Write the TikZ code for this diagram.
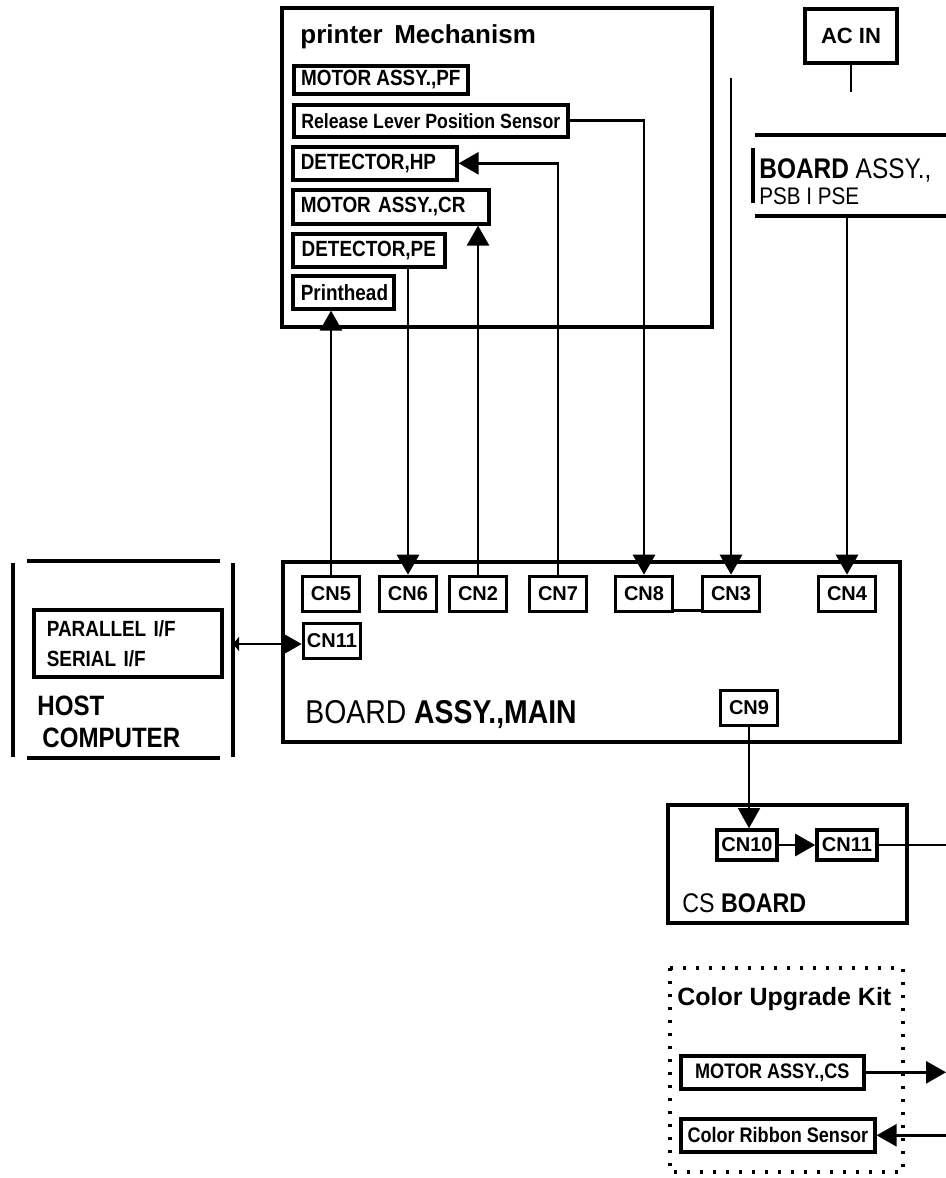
\documentclass[tikz,border=0pt]{standalone}
\usepackage{fontspec}
\setmainfont{Liberation Sans}
\newfontfamily\narrowsf{Liberation Sans}[FakeStretch=0.86]
\usetikzlibrary{arrows.meta}

\begin{document}
\begin{tikzpicture}[x=0.5pt,y=-0.5pt]
    \tikzstyle{part}=[draw,line width=1.8pt,anchor=north west,inner xsep=4pt,inner ysep=0pt,align=left,font={\narrowsf\bfseries\fontsize{11}{13}\selectfont}]
    \tikzstyle{cn}=[draw,line width=1.8pt,inner sep=0pt,minimum width=28.5pt,minimum height=17.5pt,font={\bfseries\fontsize{10}{12}\selectfont}]
    \tikzstyle{txt}=[anchor=base west,inner sep=0pt]
    \tikzstyle{wire}=[line width=1.4pt]
    \tikzstyle{arr}=[wire,-{Triangle[length=10pt,width=11pt]}]
    \tikzstyle{frame}=[line width=2pt]
    \useasboundingbox (0,0) rectangle (946,1178);
    \coordinate (rightedge) at (946,0);

    % printer mechanism
    \draw[frame] (282,8) rectangle (712,327);
    \node[txt,font={\bfseries\fontsize{13}{15}\selectfont}] (mechtitle) at (300,43) {printer\, Mechanism};
    \node[part,minimum width=87pt,inner xsep=2pt,minimum height=14pt] (pf) at (292,64) {MOTOR ASSY.,PF};
    \node[part,minimum width=137pt,inner xsep=2pt,minimum height=16pt,font={\narrowsf\bfseries\fontsize{10.3}{12}\selectfont}] (rls) at (292,103) {Release Lever Position Sensor};
    \node[part,text width=74pt,minimum height=16.5pt] (hp) at (291,145) {DETECTOR,HP};
    \node[part,text width=90pt,minimum height=17pt] (cr) at (291,188) {MOTOR ASSY.,CR};
    \node[part,minimum width=76pt,inner xsep=2pt,minimum height=16.5pt] (pe) at (291,232) {DETECTOR,PE};
    \node[part,text width=42.5pt,minimum height=16.5pt] (ph) at (291,274) {Printhead};

    % AC in and power supply
    \node[draw,line width=1.6pt,minimum width=46pt,minimum height=27pt,inner sep=0pt,font={\bfseries\fontsize{11}{13}\selectfont}] (acin) at (851,36) {AC IN};
    \coordinate (acend) at (851,92);
    \draw[wire] (acin.south) -- (acend);
    \draw[frame] (755,135) -- (990,135);
    \draw[frame] (755,216) -- (990,216);
    \draw[frame] (753,148) -- (753,203);
    \node[txt,font={\narrowsf\fontsize{14.2}{17}\selectfont}] (psba) at (759,178) {\textbf{BOARD} ASSY.,};
    \node[txt,font={\narrowsf\fontsize{12}{14}\selectfont}] (psbb) at (759,204) {PSB I PSE};
    \coordinate (psbout) at (847,216);

    % main board
    \draw[frame] (283,562) rectangle (900,742);
    \node[cn] (cn5) at (331,594) {CN5};
    \node[cn] (cn6) at (408,594) {CN6};
    \node[cn] (cn2) at (478,594) {CN2};
    \node[cn] (cn7) at (558,594) {CN7};
    \node[cn] (cn8) at (644,594) {CN8};
    \node[cn] (cn3) at (731,594) {CN3};
    \node[cn] (cn4) at (847,594) {CN4};
    \node[cn] (cn11) at (332,641) {CN11};
    \node[cn] (cn9) at (749,708) {CN9};
    \node[txt,font={\narrowsf\fontsize{16.5}{18}\selectfont}] (maintitle) at (305,723) {BOARD \textbf{ASSY.,MAIN}};

    % connections to the mechanism
    \draw[arr] (cn5.north) -- (cn5.north |- ph.south);
    \draw[arr] (cn6.north |- pe.south) -- (cn6.north);
    \draw[arr] (cn2.north) -- (cn2.north |- cr.south);
    \draw[arr] (cn7.north) |- (hp.east);
    \draw[arr] (rls.east) -| (cn8.north);
    \coordinate (pfend) at (731,78);
    \draw[arr] (pfend) -- (cn3.north);
    \draw[arr] (psbout) -- (cn4.north);
    \draw[wire] ([yshift=1.5pt]cn8.south east) -- ([yshift=1.5pt]cn3.south west);

    % host computer
    \draw[frame] (13,563) -- (13,757);
    \draw[frame] (27,561) -- (220,561);
    \draw[frame] (27,758) -- (220,758);
    \draw[frame] (233,563) -- (233,757);
    \node[part,text width=81pt,minimum height=33.5pt,inner xsep=6.5pt,font={\narrowsf\bfseries\fontsize{11}{15}\selectfont}] (ifbox) at (32,608) {PARALLEL I/F\\SERIAL I/F};
    \node[txt,font={\narrowsf\bfseries\fontsize{14}{16}\selectfont}] (hosta) at (37,715) {HOST};
    \node[txt,font={\narrowsf\bfseries\fontsize{14}{16}\selectfont}] (hostb) at (42,747) {COMPUTER};
    \coordinate (hostport) at (233,644);
    \draw[wire,{Triangle[length=3pt,width=7pt]}-{Triangle[length=10pt,width=11pt]}] (hostport) -- (cn11.west |- hostport);

    % CS board
    \draw[frame] (668,805) rectangle (907,923);
    \node[cn,minimum width=30pt,minimum height=15pt] (cn10) at (747,845) {CN10};
    \node[cn,minimum width=30pt,minimum height=15pt] (cn11b) at (847,845) {CN11};
    \node[txt,font={\narrowsf\fontsize{13.5}{15}\selectfont}] (cstitle) at (682,912) {CS \textbf{BOARD}};
    \draw[arr,line width=0.8pt] (cn9.south) -- (cn9.south |- cn10.north);
    \draw[arr] (cn10.east) -- (cn11b.west);
    \draw[wire] (cn11b.east) -- (cn11b.east -| rightedge);

    % color upgrade kit
    \draw[line width=2pt,dash pattern=on 1.5pt off 5pt] (670,968) rectangle (903,1172);
    \node[txt,font={\bfseries\fontsize{12.5}{15}\selectfont}] (kittitle) at (677,1005) {Color Upgrade Kit};
    \node[part,minimum width=91.5pt,inner xsep=2pt,minimum height=16.5pt,font={\narrowsf\bfseries\fontsize{10.5}{12}\selectfont}] (mcs) at (679,1054) {MOTOR ASSY.,CS};
    \node[part,minimum width=97pt,inner xsep=2pt,minimum height=16.5pt,font={\narrowsf\bfseries\fontsize{10.5}{12}\selectfont}] (crs) at (679,1117) {Color Ribbon Sensor};
    \draw[arr] (mcs.east) -- (mcs.east -| rightedge);
    \draw[arr] (crs.east -| rightedge) -- (crs.east);
\end{tikzpicture}
\end{document}
